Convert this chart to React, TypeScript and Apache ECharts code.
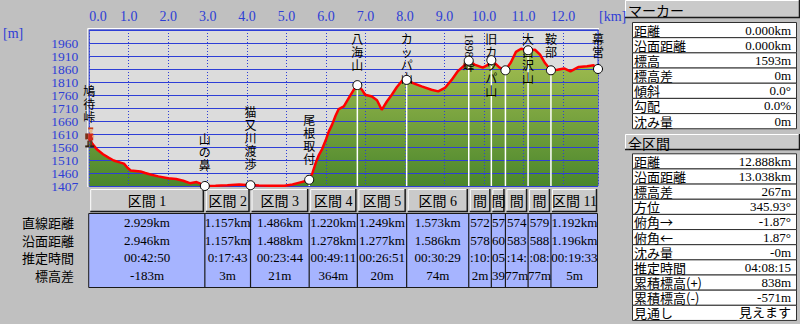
import React, { useEffect, useRef } from 'react';
import * as echarts from 'echarts';

// ---------------- data ----------------
const profileKm = [
  0, 0.08, 0.2, 0.35, 0.5, 0.62, 0.75, 0.88, 0.97, 1.05, 1.3, 1.42, 1.55, 1.75, 2.0, 2.2, 2.38, 2.55, 2.72, 2.85,
  2.929, 3.2, 3.5, 3.8, 4.086, 4.3, 4.6, 4.95, 5.15, 5.35, 5.48,
  5.572, 5.66, 5.74, 5.82, 5.9, 6.0, 6.07, 6.15, 6.24, 6.32, 6.45, 6.58, 6.7,
  6.792, 6.91, 6.99, 7.16, 7.29, 7.41, 7.54, 7.67, 7.79, 7.92,
  8.041, 8.2, 8.42, 8.67, 8.84, 9.01, 9.18, 9.34, 9.51,
  9.614, 9.76, 9.97, 10.1, 10.186, 10.26, 10.39, 10.543, 10.68, 10.81, 10.94,
  11.117, 11.29, 11.42, 11.55, 11.696, 11.86, 12.03, 12.19, 12.4, 12.61, 12.78, 12.888,
];
const profileM = [
  1593, 1572, 1550, 1532, 1518, 1508, 1502, 1496, 1480, 1470, 1466, 1460, 1454, 1447, 1440, 1437, 1430, 1421, 1425, 1417,
  1410, 1411, 1413, 1416, 1413, 1412, 1411, 1411, 1416, 1424, 1429,
  1434, 1462, 1500, 1530, 1552, 1590, 1620, 1645, 1680, 1706, 1716, 1750, 1780,
  1798, 1780, 1761, 1754, 1740, 1703, 1735, 1762, 1790, 1814,
  1818, 1806, 1793, 1780, 1774, 1787, 1818, 1852, 1875,
  1892, 1877, 1865, 1876, 1894, 1884, 1866, 1855, 1885, 1926, 1938,
  1932, 1934, 1915, 1882, 1855, 1857, 1862, 1851, 1868, 1871, 1874, 1860,
];
const startElevM = 1593;
const waypointNames = ['鳩待峠', '山の鼻', '猫又川渡渉', '尾根取付', '八海山', 'カッパ山', '1898峰', '旧カッパ山', '', '大白沢山', '鞍部', '幕営'];
const sectionNames = ['区間 1', '区間 2', '区間 3', '区間 4', '区間 5', '区間 6', '区間 7', '区間 8', '区間 9', '区間 10', '区間 11'];
const straightKm = [2.929, 1.157, 1.486, 1.22, 1.249, 1.573, 0.572, 0.357, 0.574, 0.579, 1.192];
const surfaceKm = [2.946, 1.157, 1.488, 1.278, 1.277, 1.586, 0.578, 0.36, 0.583, 0.588, 1.196];
const estTimes = ['00:42:50', '00:17:43', '00:23:44', '00:49:11', '00:26:51', '00:30:29', '00:10:20', '00:05:12', '00:14:05', '00:08:17', '00:19:33'];
const elevDiffM = [-183, 3, 21, 364, 20, 74, 2, -39, 77, -77, 5];
const rowLabels = ['直線距離', '沿面距離', '推定時間', '標高差'];
const markerLabels = ['距離', '沿面距離', '標高', '標高差', '傾斜', '勾配', '沈み量'];
const markerValues = ['0.000km', '0.000km', '1593m', '0m', '0.0°', '0.0%', '0m'];
const totalLabels = ['距離', '沿面距離', '標高差', '方位', '俯角→', '俯角←', '沈み量', '推定時間', '累積標高(+)', '累積標高(-)', '見通し'];
const totalValues = ['12.888km', '13.038km', '267m', '345.93°', '-1.87°', '1.87°', '-0m', '04:08:15', '838m', '-571m', '見えます'];
const Y_MIN = 1410;
const Y_MAX = 2010;
const Y_STEP = 50;
const Y_MIN_LABEL = '1407';
const X_STEP = 1;

// derived
const waypointKm: number[] = [0];
straightKm.forEach((d, i) => waypointKm.push(Math.round((waypointKm[i] + d) * 1000) / 1000));
const waypointM: number[] = [startElevM];
elevDiffM.forEach((d, i) => waypointM.push(waypointM[i] + d));
const totalKm = waypointKm[waypointKm.length - 1];
const profile = profileKm.map((k, i) => [k, profileM[i]]);

// ---------------- style ----------------
const BLUE = '#2E3ED6';
const SERIF = "'Liberation Serif', 'Noto Sans CJK JP', serif";
const SANS = "'Noto Sans CJK JP', 'Noto Sans', sans-serif";
const LABEL_FS = 12;
const LABEL_LH = 13;
const Y_LABEL_MARGIN = 11;

function cropText(text: string, avail: number, fs: number, leftFirst: boolean) {
  const w = (c: string) =>
    /[\u3000-\u9fff\uff00-\uffef]/.test(c) ? fs : c === 'm' ? fs * 0.78 : c === '.' || c === ' ' ? fs * 0.25 : c === ':' ? fs * 0.28 : c === '-' ? fs * 0.33 : fs * 0.5;
  const chars = text.split('');
  const total = () => chars.reduce((s, c) => s + w(c), 0);
  let left = leftFirst;
  while (chars.length > 1 && total() > avail) {
    if (left) chars.shift();
    else chars.pop();
    left = !left;
  }
  return chars.join('').trim();
}

function button(x: number, y: number, w: number, h: number) {
  return [
    { type: 'rect', shape: { x, y, width: w, height: h }, style: { fill: '#CACACA' }, z: 1 },
    { type: 'polyline', shape: { points: [[x + 0.5, y + h], [x + 0.5, y + 0.5], [x + w, y + 0.5]] }, style: { stroke: '#FFFFFF', lineWidth: 1, fill: null }, z: 2 },
    { type: 'polyline', shape: { points: [[x, y + h - 0.5], [x + w - 0.5, y + h - 0.5], [x + w - 0.5, y]] }, style: { stroke: '#1A1A1A', lineWidth: 1.5, fill: null }, z: 2 },
  ];
}

function txt(x: number, y: number, text: string, opts: any = {}) {
  const fs = opts.fontSize ?? 13;
  return {
    type: 'text',
    x,
    y,
    z: opts.z ?? 3,
    rotation: opts.rotation ?? 0,
    style: {
      text,
      fill: opts.fill ?? '#000',
      fontSize: fs,
      fontFamily: opts.fontFamily ?? SERIF,
      align: opts.align ?? 'center',
      verticalAlign: opts.verticalAlign ?? 'middle',
      lineHeight: opts.lineHeight ?? fs + 1,
    },
  };
}

function buildGraphics(chart: any) {
  const px = (x: number, y: number) => chart.convertToPixel({ gridIndex: 0 }, [x, y]) as number[];
  const els: any[] = [];
  const [plotLeft, plotTop] = px(0, Y_MAX);
  const [plotRight, plotBottom] = px(totalKm, Y_MIN);

  // light outer edge of the plot frame
  els.push({ type: 'polyline', shape: { points: [[plotLeft - 1.5, plotBottom + 1], [plotLeft - 1.5, plotTop - 1.5], [plotRight + 1, plotTop - 1.5]] }, style: { stroke: '#FFFFFF', lineWidth: 1, fill: null }, z: 2 });

  // y-axis minimum label (the axis minimum)
  els.push(txt(plotLeft - Y_LABEL_MARGIN, plotBottom, Y_MIN_LABEL, { align: 'right', fontSize: 13.5, fill: BLUE, lineHeight: 11 }));

  // waypoint vertical labels (one text per character, stacked)
  waypointNames.forEach((name, i) => {
    if (!name) return;
    const [mx, my] = px(waypointKm[i], waypointM[i]);
    const m = name.match(/^(\d+)(.*)$/);
    const digits = m ? m[1] : '';
    const rest = m ? m[2] : name;
    const dH = digits.length * 6.8;
    const h = dH + rest.length * LABEL_LH;
    const top = Math.max(plotTop + 2, my - 15 - h);
    if (digits) els.push(txt(mx, top + dH / 2, digits, { rotation: -Math.PI / 2, fontSize: LABEL_FS, lineHeight: LABEL_FS, z: 6 }));
    rest.split('').forEach((ch, k) => {
      els.push(txt(mx, top + dH + k * LABEL_LH + LABEL_LH / 2, ch, { fontSize: LABEL_FS, lineHeight: LABEL_FS, fontFamily: SANS, z: 6 }));
    });
  });

  // hiker icon at start
  const [hx, hy] = px(waypointKm[0], waypointM[0]);
  els.push({
    type: 'group',
    x: hx,
    y: hy,
    z: 8,
    children: [
      { type: 'rect', shape: { x: -1, y: -11, width: 5, height: 2 }, style: { fill: '#C8401C' }, z: 8 },
      { type: 'circle', shape: { cx: 1.5, cy: -7.5, r: 2 }, style: { fill: '#E8B888' }, z: 8 },
      { type: 'rect', shape: { x: -4, y: -5, width: 3, height: 6 }, style: { fill: '#7A3018' }, z: 8 },
      { type: 'rect', shape: { x: -1, y: -5, width: 5, height: 7 }, style: { fill: '#D02818' }, z: 8 },
      { type: 'rect', shape: { x: 3, y: -3, width: 2, height: 2 }, style: { fill: '#E8B888' }, z: 8 },
      { type: 'rect', shape: { x: -2, y: 2, width: 2, height: 6 }, style: { fill: '#5A4028' }, z: 8 },
      { type: 'rect', shape: { x: 1, y: 2, width: 2, height: 6 }, style: { fill: '#5A4028' }, z: 8 },
      { type: 'rect', shape: { x: -4, y: 7, width: 4, height: 2 }, style: { fill: '#302010' }, z: 8 },
      { type: 'rect', shape: { x: 1, y: 7, width: 4, height: 2 }, style: { fill: '#302010' }, z: 8 },
    ],
  });

  // section table
  const b = waypointKm.map((k) => px(k, Y_MIN)[0]);
  const hdrTop = 189;
  const hdrH = 23;
  const tblTop = 213;
  const tblBot = 287;
  const rowY = [222.5, 240, 257.5, 275];
  for (let i = 0; i < sectionNames.length; i++) {
    const bx = b[i] + 1;
    const bw = b[i + 1] - b[i] - 2;
    els.push(...button(bx, hdrTop, bw, hdrH));
    els.push(txt(bx + bw / 2, hdrTop + hdrH / 2 + 0.5, cropText(sectionNames[i], bw + 2, 14, false), { fontSize: 14 }));
  }
  els.push({ type: 'rect', shape: { x: b[0] - 0.5, y: tblTop + 0.5, width: b[b.length - 1] - b[0], height: tblBot - tblTop }, style: { fill: '#A6B4FF', stroke: '#1A1A1A', lineWidth: 1 }, z: 1 });
  for (let i = 1; i < b.length - 1; i++) {
    els.push({ type: 'line', shape: { x1: b[i], y1: tblTop, x2: b[i], y2: tblBot }, style: { stroke: '#1A1A1A', lineWidth: 1.2 }, z: 2 });
  }
  rowLabels.forEach((l, r) => els.push(txt(74, rowY[r], l, { align: 'right', fontFamily: SANS, fontSize: 13 })));
  for (let i = 0; i < sectionNames.length; i++) {
    const cx = (b[i] + b[i + 1]) / 2;
    const avail = b[i + 1] - b[i] + 0.5;
    const vals = [straightKm[i].toFixed(3) + 'km', surfaceKm[i].toFixed(3) + 'km', estTimes[i], elevDiffM[i] + 'm'];
    vals.forEach((v, r) => els.push(txt(cx, rowY[r], cropText(v, avail, 13, true), { fontSize: 13 })));
  }

  // right panels
  const panel = (title: string, y0: number, hH: number, tTop: number, rowH: number, labels: string[], values: string[]) => {
    els.push(...button(625, y0, 175, hH));
    els.push(txt(628, y0 + hH / 2 + 0.5, title, { align: 'left', fontFamily: SANS, fontSize: 14 }));
    labels.forEach((l, i) => {
      const y = tTop + i * rowH;
      els.push({ type: 'rect', shape: { x: 632.5, y: y + 0.5, width: 164, height: rowH }, style: { fill: '#FFFFFF', stroke: '#303030', lineWidth: 1 }, z: 1 });
      els.push(txt(634, y + rowH / 2 + 0.5, l, { align: 'left', fontFamily: SANS, fontSize: 13, lineHeight: 13 }));
      els.push(txt(791, y + rowH / 2 + 0.5, values[i], { align: 'right', fontSize: 13, lineHeight: 13 }));
    });
  };
  panel('マーカー', 0, 18, 22, 15.18, markerLabels, markerValues);
  panel('全区間', 134, 16, 153.3, 15.15, totalLabels, totalValues);

  return els;
}

export default function App() {
  const ref = useRef<HTMLDivElement>(null);
  useEffect(() => {
    document.body.style.margin = '0';
    const chart = echarts.init(ref.current!, null, { renderer: 'svg' });
    const option: any = {
      animation: false,
      backgroundColor: '#C0C0C0',
      grid: { left: 85, right: 202, top: 30, bottom: 138, show: true, backgroundColor: '#DCDCDC', borderColor: BLUE, borderWidth: 1 },
      xAxis: {
        type: 'value',
        position: 'top',
        min: 0,
        max: totalKm,
        interval: X_STEP,
        z: 3,
        axisLine: { show: false },
        axisTick: { show: false },
        axisLabel: {
          color: BLUE,
          fontFamily: SERIF,
          fontSize: 14,
          lineHeight: 14,
          margin: 7,
          showMaxLabel: false,
          alignMinLabel: 'left',
          formatter: (v: number) => v.toFixed(1),
        },
        splitLine: { show: true, lineStyle: { color: BLUE, type: [1, 2], width: 1 } },
        name: '[km]',
        nameLocation: 'end',
        nameGap: 1,
        nameMoveOverlap: false,
        nameTextStyle: { color: BLUE, fontFamily: SERIF, fontSize: 14, lineHeight: 14, align: 'left', verticalAlign: 'bottom', padding: [0, 0, 7, 0] },
      },
      yAxis: {
        type: 'value',
        min: Y_MIN,
        max: Y_MAX,
        interval: Y_STEP,
        z: 3,
        axisLine: { show: false },
        axisTick: { show: false },
        axisLabel: {
          color: BLUE,
          fontFamily: SERIF,
          fontSize: 13.5,
          lineHeight: 11,
          margin: Y_LABEL_MARGIN,
          showMinLabel: false,
          showMaxLabel: false,
          formatter: (v: number) => String(v),
        },
        splitLine: { show: true, lineStyle: { color: BLUE, width: 1 } },
        name: '[m]',
        nameLocation: 'end',
        nameGap: -3,
        nameMoveOverlap: false,
        nameTextStyle: { color: BLUE, fontFamily: SERIF, fontSize: 14, lineHeight: 14, align: 'right', verticalAlign: 'middle', padding: [0, 66, 0, 0] },
      },
      series: [
        {
          type: 'line',
          data: profile,
          symbol: 'none',
          silent: true,
          z: 1,
          lineStyle: { opacity: 0 },
          areaStyle: {
            origin: 'start',
            opacity: 1,
            color: new echarts.graphic.LinearGradient(0, 0, 0, 1, [
              { offset: 0, color: '#A7C052' },
              { offset: 1, color: '#4A862C' },
            ]),
          },
        },
        {
          type: 'custom',
          z: 4,
          silent: true,
          data: waypointKm.map((k, i) => [k, waypointM[i]]).slice(1, -1),
          renderItem: (_p: any, api: any) => {
            const top = api.coord([api.value(0), api.value(1)]);
            const bot = api.coord([api.value(0), Y_MIN]);
            return { type: 'line', shape: { x1: top[0], y1: top[1], x2: bot[0], y2: bot[1] }, style: { stroke: '#FFFFFF', lineWidth: 1.5 } };
          },
        },
        {
          type: 'line',
          data: profile,
          symbol: 'none',
          silent: true,
          z: 5,
          lineStyle: { color: '#FF0000', width: 2.5 },
        },
        {
          type: 'scatter',
          data: waypointKm.map((k, i) => [k, waypointM[i]]).slice(1),
          symbol: 'circle',
          symbolSize: 9,
          silent: true,
          z: 7,
          itemStyle: { color: '#FFFFFF', borderColor: '#000000', borderWidth: 1, opacity: 1 },
        },
      ],
    };
    chart.setOption(option);
    chart.setOption({ graphic: { elements: buildGraphics(chart) } });
    return () => chart.dispose();
  }, []);
  return <div ref={ref} style={{ position: 'fixed', left: 0, top: 0, width: 800, height: 324 }} />;
}
